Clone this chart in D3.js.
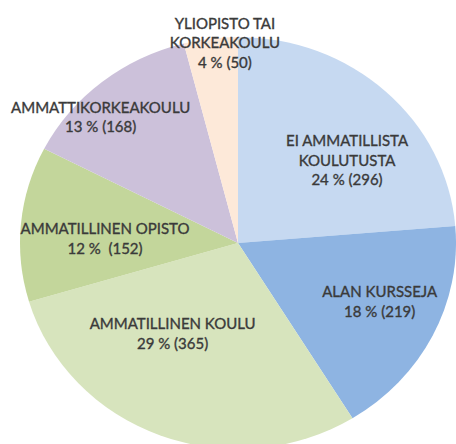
<!DOCTYPE html>
<html>
<head>
<meta charset="utf-8">
<script src="https://cdn.jsdelivr.net/npm/d3@7"></script>
<style>
  body { margin: 0; background: #fff; }
  svg text { font-family: Lato, 'Open Sans', sans-serif; fill: #3a3a3a; white-space: pre; }
</style>
</head>
<body>
<svg id="chart" width="456" height="444"></svg>
<script>
const categories = ['EI AMMATILLISTA KOULUTUSTA', 'ALAN KURSSEJA', 'AMMATILLINEN KOULU', 'AMMATILLINEN OPISTO', 'AMMATTIKORKEAKOULU', 'YLIOPISTO TAI KORKEAKOULU']
const counts = [296, 219, 365, 152, 168, 50]
const percents = [24, 18, 29, 12, 13, 4]
const labelLines = [
  ['EI AMMATILLISTA', 'KOULUTUSTA', '24 % (296)'],
  ['ALAN KURSSEJA', '18 % (219)'],
  ['AMMATILLINEN KOULU', '29 % (365)'],
  ['AMMATILLINEN OPISTO', '12 %  (152)'],
  ['AMMATTIKORKEAKOULU', '13 % (168)'],
  ['YLIOPISTO TAI', 'KORKEAKOULU', '4 % (50)']
]
const colors = ['#c6d9f1', '#8eb4e2', '#d7e4bd', '#c3d69b', '#ccc1da', '#fde9d9']

const W = 456
const H = 444
const cx = 238
const cy = 243
const rx = 218
const ry = 206

// label centres as fractions of the radii
const labelAt = [[0.50, -0.40], [0.65, 0.285], [-0.30, 0.44], [-0.61, -0.02], [-0.63, -0.61], [-0.06, -0.97]]
const lineH = 19.5

const svg = d3.select('#chart')

const pie = d3.pie().sort(null).value(d => d.count)
const arc = d3.arc().innerRadius(0).outerRadius(rx)

const data = categories.map((c, i) => ({ name: c, count: counts[i], pct: percents[i], lines: labelLines[i] }))

const pieG = svg.append('g')
  .attr('transform', `translate(${cx}, ${cy}) scale(1, ${ry / rx})`)

pieG.selectAll('path')
  .data(pie(data))
  .enter().append('path')
  .attr('d', arc)
  .attr('fill', (d, i) => colors[i])

const labels = svg.append('g')
  .selectAll('text')
  .data(data)
  .enter().append('text')
  .attr('text-anchor', 'middle')
  .attr('font-size', '15px')
  .attr('stroke', '#3a3a3a')
  .attr('stroke-width', 0.35)
  .attr('transform', (d, i) => `translate(${cx + labelAt[i][0] * rx}, ${cy + labelAt[i][1] * ry})`)

labels.each(function (d) {
  const n = d.lines.length
  d3.select(this).selectAll('tspan')
    .data(d.lines)
    .enter().append('tspan')
    .attr('x', 0)
    .attr('y', (l, j) => (j - (n - 1) / 2) * lineH)
    .attr('dy', '0.35em')
    .text(l => l)
})
</script>
</body>
</html>
